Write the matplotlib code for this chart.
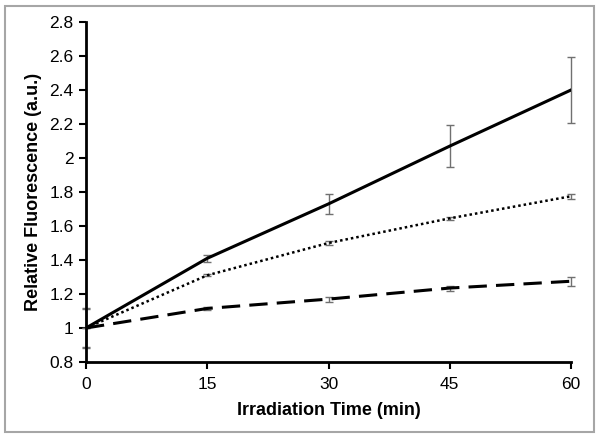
import numpy as np
import matplotlib.pyplot as plt
from matplotlib.patches import Rectangle

plt.rcParams['font.family'] = ['Liberation Sans', 'DejaVu Sans']

time_min = [0, 15, 30, 45, 60]

# solid series
solid_y = [1.0, 1.41, 1.73, 2.07, 2.40]
solid_err = [0.11, 0.02, 0.06, 0.125, 0.195]

# dotted series
dotted_y = [1.0, 1.31, 1.50, 1.645, 1.775]
dotted_err = [0.0, 0.005, 0.01, 0.008, 0.015]

# dashed series
dashed_y = [1.0, 1.115, 1.17, 1.235, 1.275]
dashed_err = [0.115, 0.01, 0.015, 0.015, 0.025]

y_ticks = [0.8, 1.0, 1.2, 1.4, 1.6, 1.8, 2.0, 2.2, 2.4, 2.6, 2.8]

fig = plt.figure(figsize=(6.01, 4.38), dpi=100)
ax = fig.add_axes([86 / 601, 1 - 362 / 438, 485 / 601, 340 / 438])

fig.patches.append(Rectangle((5 / 601, 1 - 432 / 438), 589 / 601, 426 / 438,
                             transform=fig.transFigure, fill=False,
                             edgecolor='#a6a6a6', linewidth=1.5))

err_kw = dict(fmt='none', ecolor='#707070', elinewidth=1, capsize=3, capthick=1)
for ys, es in [(solid_y, solid_err), (dotted_y, dotted_err), (dashed_y, dashed_err)]:
    eb = ax.errorbar(time_min, ys, yerr=es, **err_kw)
    for art in eb.lines[1] + eb.lines[2]:
        art.set_clip_on(False)

ax.plot(time_min, solid_y, color='black', linewidth=2.2, linestyle='-')
ax.plot(time_min, dotted_y, color='black', linewidth=1.8, linestyle=(0, (1, 1.2)))
ax.plot(time_min, dashed_y, color='black', linewidth=2.2, linestyle=(0, (6, 3)))

ax.set_xlim(0, 60)
ax.set_ylim(0.8, 2.8)
ax.set_xticks(time_min)
ax.set_yticks(y_ticks)
ax.set_yticklabels(['%g' % v for v in y_ticks])

for side in ['top', 'right']:
    ax.spines[side].set_visible(False)
for side in ['left', 'bottom']:
    ax.spines[side].set_linewidth(2)
ax.tick_params(direction='out', length=5, width=1.5, labelsize=12.5)
ax.tick_params(axis='x', pad=6)
ax.tick_params(axis='y', pad=4)

ax.set_xlabel('Irradiation Time (min)', fontsize=13, fontweight='bold', labelpad=7)
ax.set_ylabel('Relative Fluorescence (a.u.)', fontsize=13, fontweight='bold', labelpad=5)

fig.savefig('out.png', dpi=100)
